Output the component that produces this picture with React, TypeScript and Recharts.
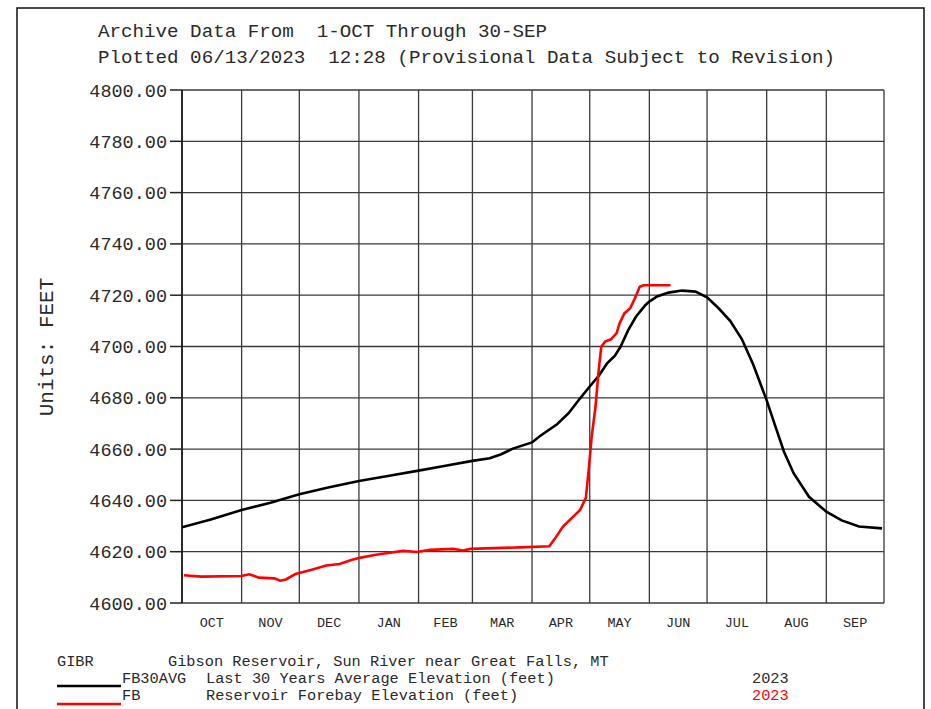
import React from 'react';
import { LineChart, Line, XAxis, YAxis, CartesianGrid, ReferenceLine } from 'recharts';

const monthNames = ['OCT', 'NOV', 'DEC', 'JAN', 'FEB', 'MAR', 'APR', 'MAY', 'JUN', 'JUL', 'AUG', 'SEP'];
const monthStartDays = [0, 31, 61, 92, 123, 151, 182, 212, 243, 273, 304, 335, 365];
const yTicks = [4600, 4620, 4640, 4660, 4680, 4700, 4720, 4740, 4760, 4780, 4800];

// FB30AVG - Last 30 Years Average Elevation (feet), day of water year
const avgDays = [0, 15, 31, 46, 61, 76, 92, 107, 123, 137, 151, 160, 166, 172, 182, 186, 195, 201, 207, 212, 217, 221, 225, 228, 232, 236, 241, 243, 247, 253, 260, 267, 273, 279, 285, 291, 297, 304, 308, 313, 318, 326, 335, 343, 352, 364];
const avgElev = [4629.5, 4632.6, 4636.3, 4639.1, 4642.4, 4645.0, 4647.6, 4649.5, 4651.6, 4653.5, 4655.4, 4656.4, 4658.0, 4660.2, 4662.6, 4665.0, 4669.7, 4674.0, 4679.8, 4684.4, 4688.9, 4693.4, 4696.3, 4699.9, 4706.4, 4711.6, 4716.2, 4717.5, 4719.5, 4721.0, 4721.8, 4721.4, 4719.2, 4714.9, 4710.0, 4703.0, 4693.0, 4679.0, 4670.0, 4659.0, 4650.6, 4641.4, 4635.6, 4632.2, 4629.8, 4629.1];

// FB - Reservoir Forebay Elevation (feet), 2023
const fbDays = [1, 10, 31, 35, 40, 48, 51, 54, 59, 67, 75, 82, 88, 93, 100, 108, 115, 122, 129, 141, 146, 150, 176, 191, 194, 198, 203, 207, 210, 211.6, 213, 215, 216.5, 218, 220, 223, 226, 227.5, 230, 233, 235.5, 238, 240, 254];
const fbElev = [4610.8, 4610.3, 4610.5, 4611.2, 4609.9, 4609.6, 4608.7, 4609.2, 4611.3, 4612.9, 4614.6, 4615.2, 4616.8, 4617.7, 4618.7, 4619.6, 4620.3, 4619.9, 4620.7, 4621.1, 4620.5, 4621.1, 4621.7, 4622.1, 4625.2, 4629.7, 4633.4, 4636.3, 4641.0, 4653.0, 4664.8, 4676.5, 4689.6, 4699.9, 4701.9, 4702.8, 4705.2, 4709.0, 4712.9, 4714.9, 4718.8, 4723.3, 4723.9, 4723.9];

const avgData = avgDays.map((d, i) => ({ d, v: avgElev[i] }));
const fbData = fbDays.map((d, i) => ({ d, v: fbElev[i] }));
const monthMids = monthNames.map((_, i) => (monthStartDays[i] + monthStartDays[i + 1]) / 2);

const MONO = '"Liberation Mono", "DejaVu Sans Mono", monospace';
const TXT = '#2a2a2a';
const PRE = { whiteSpace: 'pre' as const };

export default function App() {
  return (
    <div style={{ position: 'absolute', left: 0, top: 0, width: 931, height: 709, background: '#fff', overflow: 'hidden' }}>
      <LineChart
        width={931}
        height={709}
        margin={{ top: 90, right: 47, left: 82, bottom: 76 }}
      >
        <CartesianGrid stroke="#3a3a3a" strokeWidth={1.3} vertical={false} xAxisId={0} yAxisId={0} />
        {monthStartDays.map((b) => (
          <ReferenceLine
            key={b}
            x={b}
            xAxisId={0}
            yAxisId={0}
            stroke="#3a3a3a"
            strokeWidth={1.3}
            ifOverflow="visible"
          />
        ))}
        <XAxis
          xAxisId={0}
          type="number"
          dataKey="d"
          domain={[0, 365]}
          allowDataOverflow
          ticks={monthStartDays}
          interval={0}
          tick={false}
          tickSize={9}
          tickLine={{ stroke: '#222', strokeWidth: 1.5 }}
          axisLine={{ stroke: '#111', strokeWidth: 1.5 }}
          height={0}
        />
        <XAxis
          xAxisId="lab"
          type="number"
          dataKey="d"
          domain={[0, 365]}
          allowDataOverflow
          ticks={monthMids}
          interval={0}
          tickFormatter={(v: number) => monthNames[monthMids.indexOf(v)] ?? ''}
          tickLine={false}
          axisLine={false}
          tickMargin={8}
          tick={{ fill: TXT, fontSize: 13.5, fontFamily: MONO }}
          height={30}
        />
        <YAxis
          yAxisId={0}
          type="number"
          domain={[4600, 4800]}
          ticks={yTicks}
          interval={0}
          allowDataOverflow
          width={100}
          tickSize={12}
          tickMargin={3}
          tickFormatter={(v: number) => v.toFixed(2)}
          tick={{ fill: TXT, fontSize: 18.5, fontFamily: MONO }}
          tickLine={{ stroke: '#222', strokeWidth: 1.5 }}
          axisLine={{ stroke: '#111', strokeWidth: 1.5 }}
        />
        <Line
          xAxisId={0}
          yAxisId={0}
          data={avgData}
          dataKey="v"
          type="linear"
          stroke="#000"
          strokeWidth={2.6}
          dot={false}
          isAnimationActive={false}
        />
        <Line
          xAxisId={0}
          yAxisId={0}
          data={fbData}
          dataKey="v"
          type="linear"
          stroke="#ff0000"
          strokeWidth={2.6}
          dot={false}
          isAnimationActive={false}
        />
      </LineChart>
      <svg
        width={931}
        height={709}
        style={{ position: 'absolute', left: 0, top: 0, pointerEvents: 'none' }}
      >
        <polyline points="17,720 17,8 924,8 924,720" fill="none" stroke="#111" strokeWidth={1.5} />
        <g fontFamily={MONO} fill={TXT}>
          <text x={98} y={32} fontSize={19.2} dominantBaseline="central" style={PRE}>Archive Data From  1-OCT Through 30-SEP</text>
          <text x={98} y={58} fontSize={19.2} dominantBaseline="central" style={PRE}>Plotted 06/13/2023  12:28 (Provisional Data Subject to Revision)</text>
          <text
            x={47}
            y={347}
            fontSize={21}
            textAnchor="middle"
            dominantBaseline="central"
            transform="rotate(-90 47 347)"
          >
            Units: FEET
          </text>
          <text x={57} y={662} fontSize={15.3} dominantBaseline="central">GIBR</text>
          <text x={168} y={662} fontSize={15.3} dominantBaseline="central">Gibson Reservoir, Sun River near Great Falls, MT</text>
          <text x={122} y={679} fontSize={15.3} dominantBaseline="central">FB30AVG</text>
          <text x={206} y={679} fontSize={15.3} dominantBaseline="central">Last 30 Years Average Elevation (feet)</text>
          <text x={752} y={679} fontSize={15.3} dominantBaseline="central">2023</text>
          <text x={122} y={696} fontSize={15.3} dominantBaseline="central">FB</text>
          <text x={206} y={696} fontSize={15.3} dominantBaseline="central">Reservoir Forebay Elevation (feet)</text>
          <text x={752} y={696} fontSize={15.3} dominantBaseline="central" fill="#ff0000">2023</text>
        </g>
        <line x1={57} y1={686} x2={121} y2={686} stroke="#000" strokeWidth={2.6} />
        <line x1={57} y1={704} x2={121} y2={704} stroke="#ff0000" strokeWidth={2.6} />
      </svg>
    </div>
  );
}
